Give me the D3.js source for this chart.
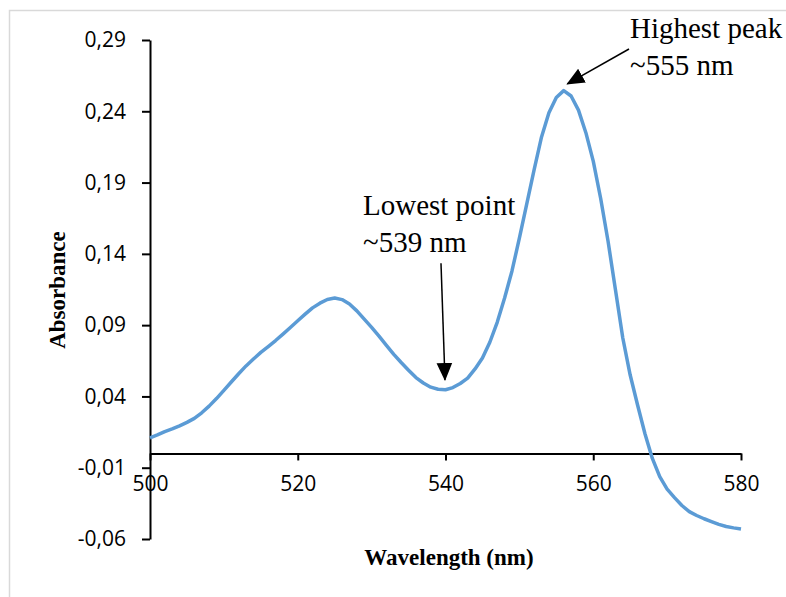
<!DOCTYPE html>
<html>
<head>
<meta charset="utf-8">
<script src="https://cdn.jsdelivr.net/npm/d3@7"></script>
<style>
  body { margin: 0; background: #fff; }
  .tick text { font-family: "Open Sans", sans-serif; font-size: 21px; fill: #000; }
  .axis-title { font-family: "Liberation Serif", serif; font-weight: bold; font-size: 23px; }
  .note { font-family: "Liberation Serif", serif; font-size: 29px; }
</style>
</head>
<body>
<svg id="chart" width="786" height="597"></svg>
<script>
// wavelength (nm), one reading per nm
const wavelengths = [
  500, 501, 502, 503, 504, 505, 506, 507, 508, 509,
  510, 511, 512, 513, 514, 515, 516, 517, 518, 519,
  520, 521, 522, 523, 524, 525, 526, 527, 528, 529,
  530, 531, 532, 533, 534, 535, 536, 537, 538, 539,
  540, 541, 542, 543, 544, 545, 546, 547, 548, 549,
  550, 551, 552, 553, 554, 555, 556, 557, 558, 559,
  560, 561, 562, 563, 564, 565, 566, 567, 568, 569,
  570, 571, 572, 573, 574, 575, 576, 577, 578, 579, 580
];
const absorbance = [
  0.011, 0.013, 0.0153, 0.0172, 0.0194, 0.0218, 0.0246, 0.0285, 0.0332, 0.0385,
  0.0443, 0.0501, 0.0559, 0.0614, 0.0662, 0.0709, 0.075, 0.0792, 0.0837, 0.0884,
  0.0931, 0.0977, 0.1021, 0.1054, 0.108, 0.109, 0.1079, 0.1048, 0.1, 0.0942,
  0.0884, 0.0823, 0.0758, 0.0695, 0.0638, 0.0584, 0.0532, 0.0494, 0.0465, 0.045,
  0.0447, 0.0462, 0.0491, 0.0528, 0.0593, 0.067, 0.078, 0.092, 0.109, 0.128,
  0.151, 0.175, 0.199, 0.222, 0.239, 0.2497, 0.2545, 0.2507, 0.2408, 0.225,
  0.205, 0.179, 0.149, 0.115, 0.081, 0.055, 0.034, 0.0138, -0.0035, -0.0163,
  -0.025, -0.031, -0.0365, -0.0408, -0.0435, -0.0458, -0.0478, -0.0497, -0.0512, -0.0522, -0.053
];
const xTicks = [500, 520, 540, 560, 580];
const yTicks = [-0.06, -0.01, 0.04, 0.09, 0.14, 0.19, 0.24, 0.29];
const xTitle = "Wavelength (nm)";
const yTitle = "Absorbance";
const noteLines = [["Highest peak", "~555 nm"], ["Lowest point", "~539 nm"]];

const SVG = d3.select("#chart");
const X0 = 150, X1 = 741, Y0 = 539, Y1 = 40;

const xScale = d3.scaleLinear().domain([500, 580]).range([X0, X1]);
const yScale = d3.scaleLinear().domain([-0.06, 0.29]).range([Y0, Y1]);

// light frame, cut off at right/bottom as in the original
SVG.append("path")
  .attr("d", "M9.5,597 L9.5,10.5 L786,10.5")
  .attr("fill", "none")
  .attr("stroke", "#d9d9d9")
  .attr("stroke-width", 1.5);

const fmt = (d) => (d < 0 ? "-" : "") + Math.abs(d).toFixed(2).replace(".", ",");

const yAxis = SVG.append("g")
  .attr("transform", "translate(" + X0 + ",0)")
  .call(d3.axisLeft(yScale).tickValues(yTicks).tickFormat(fmt).tickSize(8).tickSizeOuter(0).tickPadding(16));

const xAxis = SVG.append("g")
  .attr("transform", "translate(0," + yScale(0) + ")")
  .call(d3.axisBottom(xScale).tickValues(xTicks).tickFormat(d3.format("d")).tickSize(7).tickSizeOuter(0).tickPadding(16));

[xAxis, yAxis].forEach((g) => {
  g.select(".domain").attr("stroke", "#000").attr("stroke-width", 2);
  g.selectAll(".tick line").attr("stroke", "#000").attr("stroke-width", 2);
});

// curve
const points = wavelengths.map((w, i) => [w, absorbance[i]]);
SVG.append("path")
  .datum(points)
  .attr("fill", "none")
  .attr("stroke", "#5b9bd5")
  .attr("stroke-width", 3.5)
  .attr("stroke-linejoin", "round")
  .attr("d", d3.line().x((d) => xScale(d[0])).y((d) => yScale(d[1])));

// axis titles
SVG.append("text")
  .attr("class", "axis-title")
  .attr("text-anchor", "middle")
  .attr("x", 449)
  .attr("y", 565)
  .text(xTitle);

SVG.append("text")
  .attr("class", "axis-title")
  .attr("text-anchor", "middle")
  .attr("transform", "translate(65,290) rotate(-90)")
  .text(yTitle);

// annotations
SVG.append("defs").append("marker")
  .attr("id", "head")
  .attr("markerUnits", "userSpaceOnUse")
  .attr("markerWidth", 18)
  .attr("markerHeight", 18)
  .attr("viewBox", "0 -8 16 16")
  .attr("refX", 15)
  .attr("refY", 0)
  .attr("orient", "auto")
  .append("path")
  .attr("d", "M0,-7 L16,0 L0,7 Z")
  .attr("fill", "#000");

const arrows = [
  { from: [564.84, 0.2837], to: [556.49, 0.2592] },
  { from: [539.39, 0.1334], to: [539.93, 0.0516] }
];
SVG.selectAll(".arrow")
  .data(arrows)
  .join("line")
  .attr("class", "arrow")
  .attr("x1", (d) => xScale(d.from[0]))
  .attr("y1", (d) => yScale(d.from[1]))
  .attr("x2", (d) => xScale(d.to[0]))
  .attr("y2", (d) => yScale(d.to[1]))
  .attr("stroke", "#000")
  .attr("stroke-width", 1.5)
  .attr("marker-end", "url(#head)");

const notePos = [[564.97, 0.2912, 0.2655], [528.83, 0.1673, 0.1413]];
noteLines.forEach((lines, i) => {
  lines.forEach((t, j) => {
    SVG.append("text")
      .attr("class", "note")
      .attr("x", xScale(notePos[i][0]))
      .attr("y", yScale(notePos[i][1 + j]))
      .text(t);
  });
});
</script>
</body>
</html>
